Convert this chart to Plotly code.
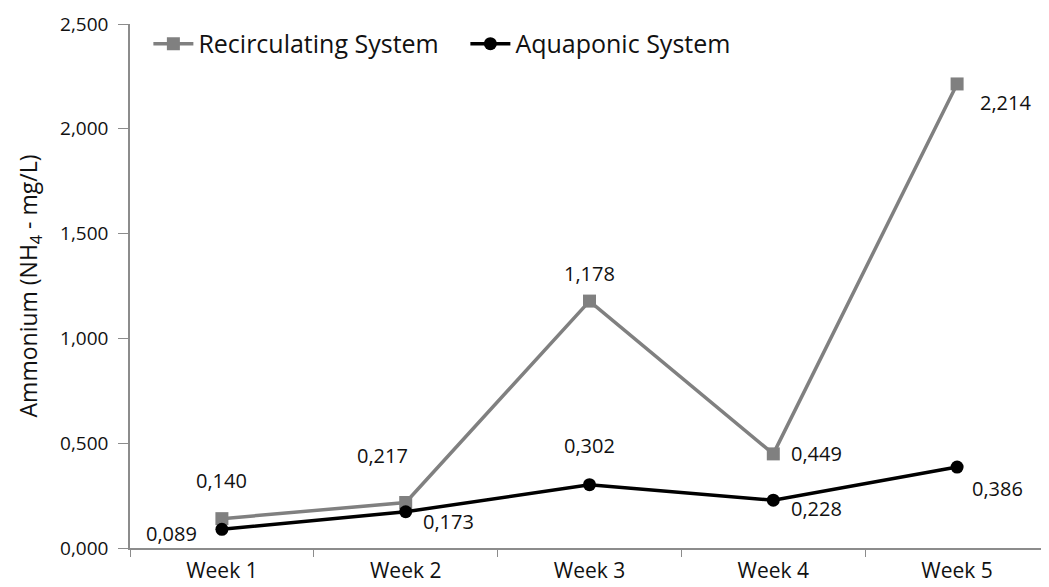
import plotly.graph_objects as go

weeks = ["Week 1", "Week 2", "Week 3", "Week 4", "Week 5"]
recirculating = [0.140, 0.217, 1.178, 0.449, 2.214]
aquaponic = [0.089, 0.173, 0.302, 0.228, 0.386]

# label offsets (px) for each point
recirc_shift = [(0, 38), (-23, 47), (0, 28), (43, 0), (48, -19)]
aqua_shift = [(-50, -4), (43, -10), (0, 39), (43, -8), (40, -21)]

fig = go.Figure()
fig.add_trace(go.Scatter(x=weeks, y=recirculating, name="Recirculating System",
                         mode="lines+markers",
                         line=dict(color="#808080", width=3.5),
                         marker=dict(symbol="square", size=13, color="#808080")))
fig.add_trace(go.Scatter(x=weeks, y=aquaponic, name="Aquaponic System",
                         mode="lines+markers",
                         line=dict(color="#000000", width=3.5),
                         marker=dict(symbol="circle", size=13, color="#000000")))

def fmt(v):
    return ("%.3f" % v).replace(".", ",")

for series, shifts in ((recirculating, recirc_shift), (aquaponic, aqua_shift)):
    for w, v, (dx, dy) in zip(weeks, series, shifts):
        fig.add_annotation(x=w, y=v, text=fmt(v), showarrow=False,
                           xshift=dx, yshift=dy,
                           font=dict(size=20, color="#111111"))

fig.update_layout(
    width=1041, height=579,
    margin=dict(l=122, r=0, t=16, b=39, autoexpand=False),
    paper_bgcolor="white", plot_bgcolor="white",
    separators=",.",
    font=dict(family="Open Sans, Liberation Sans, sans-serif", color="#111111"),
    showlegend=True,
    legend=dict(orientation="h", x=0.02, y=0.962, xanchor="left", yanchor="middle",
                font=dict(size=25, color="#111111"), bgcolor="rgba(0,0,0,0)",
                itemwidth=40, tracegroupgap=0, entrywidth=262),
)
fig.update_xaxes(range=[-0.5, 4.5], showline=True, linecolor="#8c8c8c", linewidth=1.5,
                 ticks="outside", tickson="boundaries", ticklen=7, tickcolor="#8c8c8c",
                 tickfont=dict(size=21), ticklabelstandoff=3, showgrid=False,
                 zeroline=False, automargin=False)
fig.update_yaxes(range=[0, 2.5], dtick=0.5, tickformat=".3f", showline=True,
                 linecolor="#8c8c8c", linewidth=1.5, ticks="outside", ticklen=10,
                 tickcolor="#8c8c8c", tickfont=dict(size=19), ticklabelstandoff=6,
                 showgrid=False, zeroline=False, automargin=False,
                 title=dict(text="Ammonium (NH<sub>4</sub> - mg/L)", font=dict(size=23),
                            standoff=16))

fig.write_html("out.html")
